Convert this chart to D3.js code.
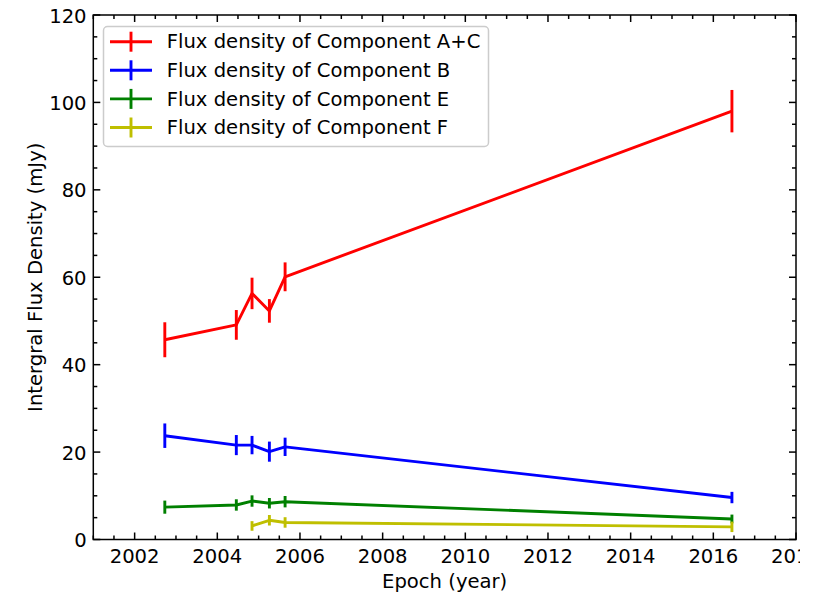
<!DOCTYPE html>
<html>
<head>
<meta charset="utf-8">
<script src="https://cdn.jsdelivr.net/npm/d3@7"></script>
<style>
  body { margin: 0; background: #fff; }
  text { font-family: "DejaVu Sans", sans-serif; fill: #000; }
</style>
</head>
<body>
<div id="chart"></div>
<script>
// epochs of observation (year)
const epochs = [2002.73, 2004.46, 2004.84, 2005.26, 2005.64, 2016.45]

const fluxAC = [45.7, 49.1, 56.3, 52.3, 60.1, 98.0]
const errAC  = [4.0, 3.4, 3.6, 2.7, 3.3, 4.85]
const fluxB  = [23.75, 21.6, 21.6, 20.1, 21.2, 9.6]
const errB   = [2.8, 2.3, 2.1, 2.3, 2.1, 1.3]
const fluxE  = [7.4, 7.9, 8.8, 8.3, 8.65, 4.7]
const errE   = [1.5, 1.3, 1.3, 1.2, 1.3, 1.0]
// component F only from the third epoch
const fluxF  = [null, null, 3.1, 4.4, 3.9, 2.9]
const errF   = [null, null, 1.1, 1.2, 1.2, 1.2]

const seriesNames = ["Flux density of Component A+C", "Flux density of Component B",
                     "Flux density of Component E", "Flux density of Component F"]
const seriesColors = ["#ff0000", "#0000ff", "#008000", "#bfbf00"]

const xTicks = [2002, 2004, 2006, 2008, 2010, 2012, 2014, 2016, 2018]
const yTicks = [0, 20, 40, 60, 80, 100, 120]

const W = 820, H = 593
const margin = {top: 15, right: 24, bottom: 53.5, left: 93.3}
const fs = 19.6

const svg = d3.select("#chart").append("svg")
    .attr("width", W)
    .attr("height", H)

// the figure is cut just right of the frame
svg.append("clipPath").attr("id", "cut")
    .append("rect").attr("x", 0).attr("y", 0).attr("width", 800).attr("height", H)
const root = svg.append("g").attr("clip-path", "url(#cut)")

const x = d3.scaleLinear()
    .domain([2001, 2018])
    .range([margin.left, W - margin.right])
const y = d3.scaleLinear()
    .domain([0, 120])
    .range([H - margin.bottom, margin.top])

const x0 = x.range()[0], x1 = x.range()[1]
const y0 = y.range()[0], y1 = y.range()[1]

const xMinor = d3.range(2001, 2018.01, 0.5).filter(v => !xTicks.includes(v))
const yMinor = d3.range(0, 120.01, 5).filter(v => !yTicks.includes(v))

// ticks, pointing inward, on all four sides
const tk = root.append("g").attr("stroke", "#000").attr("stroke-width", 1.5)
function xTick(v, len) {
    tk.append("line").attr("x1", x(v)).attr("x2", x(v)).attr("y1", y0).attr("y2", y0 - len)
    tk.append("line").attr("x1", x(v)).attr("x2", x(v)).attr("y1", y1).attr("y2", y1 + len)
}
function yTick(v, len) {
    tk.append("line").attr("y1", y(v)).attr("y2", y(v)).attr("x1", x0).attr("x2", x0 + len)
    tk.append("line").attr("y1", y(v)).attr("y2", y(v)).attr("x1", x1).attr("x2", x1 - len)
}
xTicks.forEach(v => xTick(v, 7))
xMinor.forEach(v => xTick(v, 4))
yTicks.forEach(v => yTick(v, 7))
yMinor.forEach(v => yTick(v, 4))

root.selectAll("text.xtick")
    .data(xTicks)
    .enter()
    .append("text")
    .attr("class", "xtick")
    .attr("x", d => x(d))
    .attr("y", y0 + 23)
    .attr("text-anchor", "middle")
    .style("font-size", fs + "px")
    .text(d => d)

root.selectAll("text.ytick")
    .data(yTicks)
    .enter()
    .append("text")
    .attr("class", "ytick")
    .attr("x", x0 - 6.7)
    .attr("y", d => y(d) + 7.5)
    .attr("text-anchor", "end")
    .style("font-size", fs + "px")
    .text(d => d)

root.append("text")
    .attr("x", (x0 + x1) / 2)
    .attr("y", 588)
    .attr("text-anchor", "middle")
    .style("font-size", fs + "px")
    .text("Epoch (year)")

root.append("text")
    .attr("transform", `translate(42,${(y0 + y1) / 2}) rotate(-90)`)
    .attr("text-anchor", "middle")
    .style("font-size", fs + "px")
    .text("Intergral Flux Density (mJy)")

// series
const allFlux = [fluxAC, fluxB, fluxE, fluxF]
const allErr = [errAC, errB, errE, errF]

allFlux.forEach((vals, i) => {
    const pts = epochs.map((e, j) => ({x: e, v: vals[j], err: allErr[i][j]}))
        .filter(d => d.v != null)
    const g = root.append("g")
    g.append("path")
        .datum(pts)
        .attr("fill", "none")
        .attr("stroke", seriesColors[i])
        .attr("stroke-width", 2.9)
        .attr("stroke-linejoin", "round")
        .attr("d", d3.line().x(d => x(d.x)).y(d => y(d.v)))
    g.selectAll("line")
        .data(pts)
        .enter()
        .append("line")
        .attr("x1", d => x(d.x))
        .attr("x2", d => x(d.x))
        .attr("y1", d => y(d.v - d.err))
        .attr("y2", d => y(d.v + d.err))
        .attr("stroke", seriesColors[i])
        .attr("stroke-width", 2.9)
})

// frame
root.append("rect")
    .attr("x", x0).attr("y", y1)
    .attr("width", x1 - x0).attr("height", y0 - y1)
    .attr("fill", "none")
    .attr("stroke", "#000")
    .attr("stroke-width", 1.5)

// legend
const lg = root.append("g")
lg.append("rect")
    .attr("x", 103.5).attr("y", 26.5)
    .attr("width", 385).attr("height", 120)
    .attr("rx", 4)
    .attr("fill", "rgba(255,255,255,0.8)")
    .attr("stroke", "#cccccc")
    .attr("stroke-width", 1.5)

seriesNames.forEach((name, i) => {
    const cy = 41.7 + i * 28.6
    lg.append("line")
        .attr("x1", 110).attr("x2", 152)
        .attr("y1", cy).attr("y2", cy)
        .attr("stroke", seriesColors[i]).attr("stroke-width", 2.9)
    lg.append("line")
        .attr("x1", 131).attr("x2", 131)
        .attr("y1", cy - 10).attr("y2", cy + 10)
        .attr("stroke", seriesColors[i]).attr("stroke-width", 2.9)
    lg.append("text")
        .attr("x", 166.7)
        .attr("y", cy + 6.6)
        .style("font-size", fs + "px")
        .text(name)
})
</script>
</body>
</html>
